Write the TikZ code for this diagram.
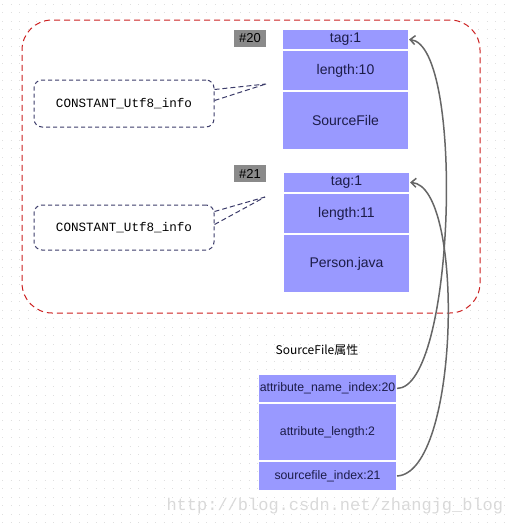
\documentclass[tikz,border=0pt]{standalone}
\usepackage{fontspec}
\setmainfont{Liberation Sans}
\newfontfamily\utfmono{Liberation Mono}
\newfontfamily\cjkfont{Noto Sans CJK SC}
\usepackage{tikz}
\usetikzlibrary{positioning,arrows.meta}
\definecolor{cellblue}{HTML}{9999FF}
\definecolor{celltext}{HTML}{1C1C48}
\definecolor{framered}{HTML}{CC1F1F}
\definecolor{calloutnavy}{HTML}{3C3C6A}
\definecolor{idxgray}{HTML}{8A8A8A}
\definecolor{curvegray}{HTML}{666666}

\begin{document}
\begin{tikzpicture}[x=1pt, y=-1pt,
    cell/.style={fill=cellblue, draw=white, line width=1pt, text=celltext, minimum width=126pt, inner sep=0pt, font=\fontsize{14}{16}\selectfont},
    attrcell/.style={cell, minimum width=138pt, font=\fontsize{12.3}{14}\selectfont},
    idxtag/.style={fill=idxgray, minimum width=32pt, minimum height=17pt, inner sep=0pt, font=\fontsize{13}{15}\selectfont},
    utfbox/.style={draw=calloutnavy, line width=1pt, dash pattern=on 4pt off 3pt, rounded corners=8pt, minimum width=180pt, fill=white, font=\utfmono\fontsize{12.6}{14}\selectfont},
    callout/.style={draw=calloutnavy, line width=1pt, dash pattern=on 5pt off 3pt},
    ref/.style={draw=curvegray, line width=1.5pt, -{Straight Barb[length=5pt,width=9pt]}}]
    \useasboundingbox (0,0) rectangle (508,525);

    % Dotted background
    \foreach \gy in {4,12.5,...,525}
        \draw[gray!25, line width=1pt, dash pattern=on 1pt off 7.5pt] (2,\gy) -- (508,\gy);

    \node[text=gray!30, font=\utfmono\fontsize{17}{19}\selectfont, anchor=west] (mark) at (163,506) {http://blog.csdn.net/zhangjg\_blog};

    % Constant pool
    \node[draw=framered, line width=1pt, dash pattern=on 6pt off 4pt, fill=white, rounded corners=30pt, minimum width=458pt, minimum height=293pt] (frame) at (251,166.5) {};

    % Entry #20
    \node[idxtag] (idx20) at (250,38.5) {\#20};
    \node[cell, minimum height=20pt, anchor=north west] (tag20) at (282,29) {tag:1};
    \node[cell, minimum height=40pt, below=0pt of tag20] (len20) {length:10};
    \node[cell, minimum height=58pt, below=0pt of len20] (str20) {SourceFile};

    % Entry #21
    \node[idxtag] (idx21) at (250,173.5) {\#21};
    \node[cell, minimum height=20pt, anchor=north west] (tag21) at (283,172) {tag:1};
    \node[cell, minimum height=40pt, below=0pt of tag21] (len21) {length:11};
    \node[cell, minimum height=58pt, below=0pt of len21] (str21) {Person.java};

    % CONSTANT_Utf8_info callouts
    \node[utfbox, minimum height=47pt] (utfA) at (124,103.5) {CONSTANT\_Utf8\_info};
    \node[utfbox, minimum height=45pt] (utfB) at (124,227.5) {CONSTANT\_Utf8\_info};
    \coordinate (tip20) at (266,84);
    \coordinate (tip21) at (265,197);
    \draw[callout] ([yshift=14pt]utfA.east) -- (tip20);
    \draw[callout] ([yshift=3pt]utfA.east) -- (tip20);
    \draw[callout] ([yshift=16pt]utfB.east) -- (tip21);
    \draw[callout] ([yshift=3pt]utfB.east) -- (tip21);

    % SourceFile attribute
    \node[font=\cjkfont\fontsize{12}{14}\selectfont] (title) at (317,350) {SourceFile属性};
    \node[attrcell, minimum height=28pt, anchor=north west] (attrname) at (258,374) {attribute\_name\_index:20};
    \node[attrcell, minimum height=57pt, below=0pt of attrname] (attrlen) {attribute\_length:2};
    \node[attrcell, minimum height=29pt, below=0pt of attrlen] (srcidx) {sourcefile\_index:21};

    % References into the pool
    \draw[ref] (attrname.east) .. controls (455,388) and (465,45) .. (tag20.east);
    \draw[ref] (srcidx.east) .. controls (460,473) and (465,185) .. (tag21.east);
\end{tikzpicture}
\end{document}
